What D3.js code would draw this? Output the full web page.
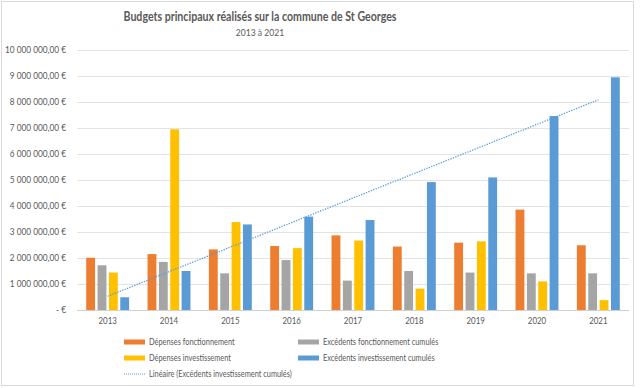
<!DOCTYPE html>
<html><head><meta charset="utf-8">
<script src="https://cdn.jsdelivr.net/npm/d3@7"></script>
<style>body{margin:0;background:#fff}svg{display:block}text{font-family:Lato,"Open Sans",sans-serif;fill:#595959}</style>
</head><body><svg id="c" width="640" height="388"></svg>
<script>
const years = ["2013","2014","2015","2016","2017","2018","2019","2020","2021"];
const seriesNames = ["Dépenses fonctionnement","Excédents fonctionnement cumulés","Dépenses investissement","Excédents investissement cumulés"];
const depFonct = [2010000,2150000,2330000,2460000,2870000,2440000,2590000,3860000,2490000];
const excFonct = [1720000,1850000,1410000,1920000,1130000,1500000,1440000,1410000,1410000];
const depInv   = [1440000,6950000,3380000,2380000,2670000,820000,2640000,1100000,380000];
const excInv   = [490000,1500000,3290000,3590000,3460000,4920000,5100000,7460000,8950000];
const yTicks = [0,1000000,2000000,3000000,4000000,5000000,6000000,7000000,8000000,9000000,10000000];
const colors = ["#ED7D31","#A5A5A5","#FFC000","#5B9BD5"];
const title = "Budgets principaux réalisés sur la commune de St Georges";
const subtitle = "2013 à 2021";
const trendLabel = "Linéaire (Excédents investissement cumulés)";

const data = [depFonct, excFonct, depInv, excInv];
const svg = d3.select("#c");
function squeeze(sel, f){
  sel.each(function(){ const L=this.getComputedTextLength();
    d3.select(this).attr("textLength",L*f).attr("lengthAdjust","spacingAndGlyphs"); });
}
svg.append("rect").attr("x",1.5).attr("y",1.5).attr("width",632).attr("height",384)
  .attr("fill","#fff").attr("stroke","#d9d9d9");

svg.append("text").attr("x",260).attr("y",21).attr("text-anchor","middle")
  .attr("font-size",12.5).attr("font-weight","bold").text(title)
  .attr("textLength",273).attr("lengthAdjust","spacingAndGlyphs");
svg.append("text").attr("x",260).attr("y",36).attr("text-anchor","middle")
  .attr("font-size",9.5).text(subtitle).call(squeeze,0.9);

const y = d3.scaleLinear().domain([0,10000000]).range([310,50]);
const x0 = d3.scaleBand().domain(years).range([77,629]).paddingInner(0.3).paddingOuter(0.15);
const x1 = d3.scaleBand().domain(d3.range(4)).range([0,x0.bandwidth()]).paddingInner(0.22);

const fmt = v => v===0 ? "-  €" : d3.format(",.2f")(v).replace(/,/g," ").replace(".",",")+" €";
svg.append("g").selectAll("line").data(yTicks).join("line")
  .attr("x1",77).attr("x2",629).attr("y1",d=>Math.round(y(d))+0.5).attr("y2",d=>Math.round(y(d))+0.5)
  .attr("stroke",d=>d===0?"#d0d0d0":"#e3e3e3").attr("stroke-width",1);
svg.append("g").selectAll("text").data(yTicks).join("text")
  .attr("x",66).attr("y",d=>y(d)+3).attr("text-anchor","end").attr("font-size",8.8).text(fmt)
  .call(squeeze,0.94);

const g = svg.append("g");
years.forEach((yr,i)=>{
  data.forEach((s,k)=>{
    g.append("rect").attr("x",x0(yr)+x1(k)).attr("width",x1.bandwidth())
      .attr("y",y(s[i])).attr("height",y(0)-y(s[i])).attr("fill",colors[k]);
  });
});
svg.append("g").selectAll("text").data(years).join("text")
  .attr("x",d=>x0(d)+x0.bandwidth()/2).attr("y",324).attr("text-anchor","middle")
  .attr("font-size",9).text(d=>d).call(squeeze,0.88);

// linear trend of cumulative investment surplus
const xs = d3.range(years.length);
const mx = d3.mean(xs), my = d3.mean(excInv);
const slope = d3.sum(xs,(v,i)=>(v-mx)*(excInv[i]-my))/d3.sum(xs,v=>(v-mx)*(v-mx));
const icpt = my - slope*mx;
const cx = yr => x0(yr)+x0.bandwidth()/2;
svg.append("line").attr("x1",cx(years[0])).attr("y1",y(icpt))
  .attr("x2",cx(years[years.length-1])).attr("y2",y(icpt+slope*(years.length-1)))
  .attr("stroke","#5B9BD5").attr("stroke-width",1.3).attr("stroke-dasharray","1.3 1.3");

// legend
const leg = [{n:seriesNames[0],c:colors[0],x:124,y:342},{n:seriesNames[1],c:colors[1],x:298,y:342},
             {n:seriesNames[2],c:colors[2],x:124,y:358},{n:seriesNames[3],c:colors[3],x:298,y:358}];
leg.forEach(l=>{
  svg.append("rect").attr("x",l.x).attr("y",l.y-2.5).attr("width",21).attr("height",5).attr("fill",l.c);
  svg.append("text").attr("x",l.x+25).attr("y",l.y+3).attr("font-size",9).text(l.n).call(squeeze,0.82);
});
svg.append("line").attr("x1",124).attr("x2",145).attr("y1",374).attr("y2",374)
  .attr("stroke","#5B9BD5").attr("stroke-width",1).attr("stroke-dasharray","1 1");
svg.append("text").attr("x",149).attr("y",377).attr("font-size",9).text(trendLabel).call(squeeze,0.82);
</script></body></html>
